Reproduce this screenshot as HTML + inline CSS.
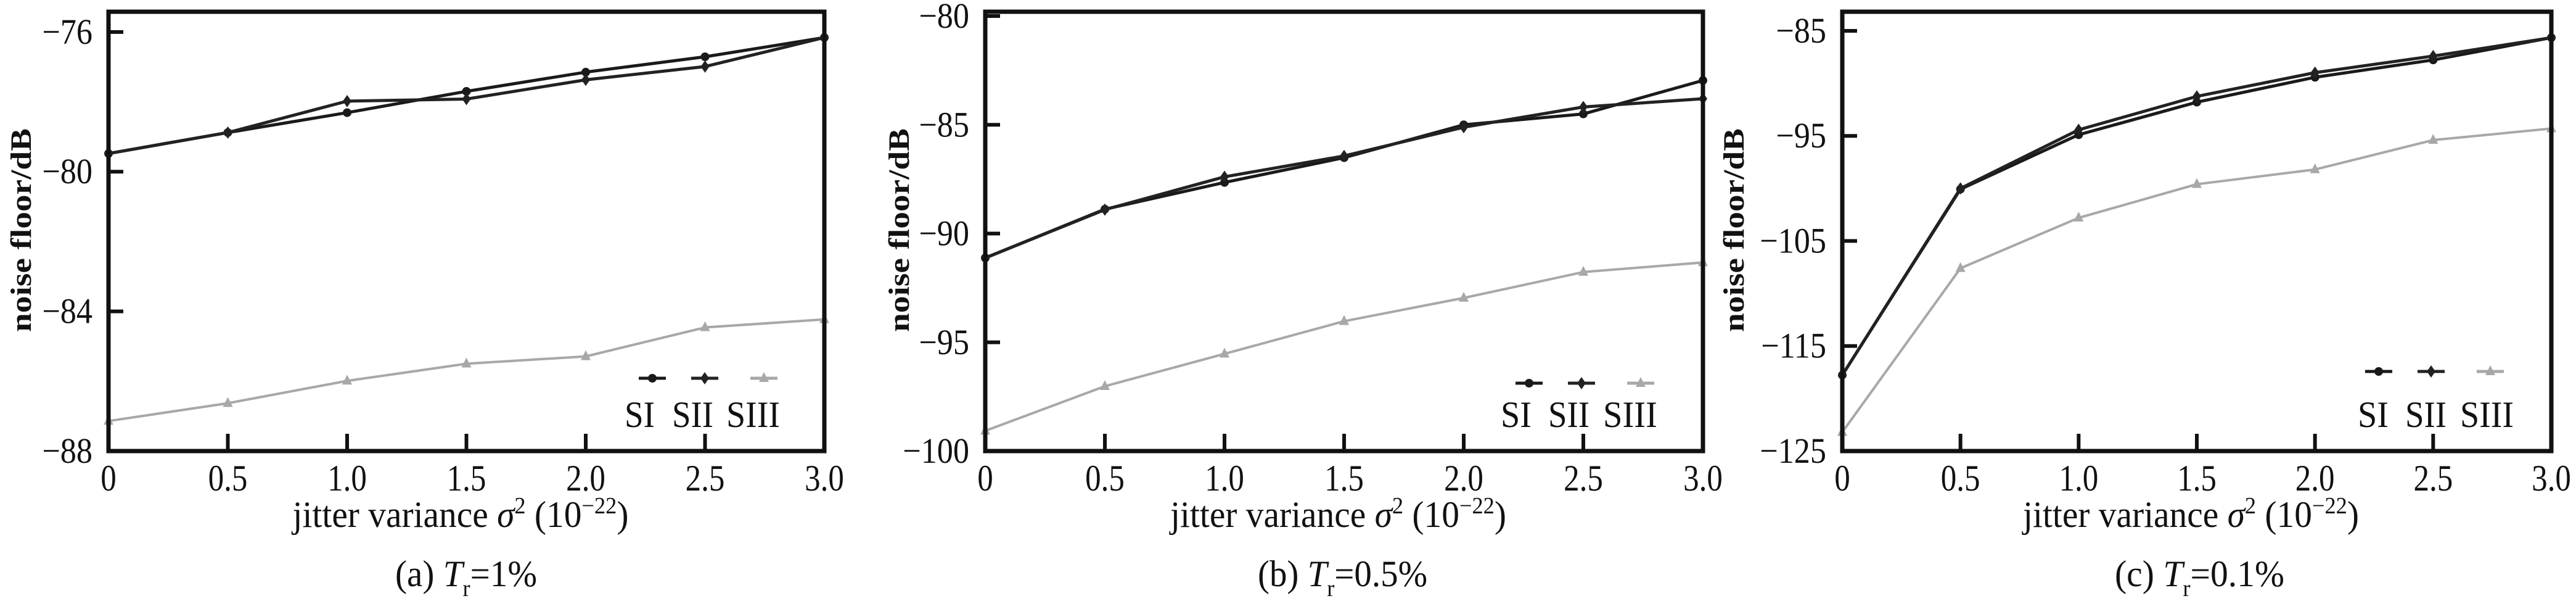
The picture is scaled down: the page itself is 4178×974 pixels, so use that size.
<!DOCTYPE html>
<html><head><meta charset="utf-8"><style>
html,body{margin:0;padding:0;background:#fff;}
svg{display:block;}
text{font-family:"Liberation Serif",serif;fill:#111;}
</style></head><body>
<svg id="fig" width="4178" height="974" viewBox="0 0 4178 974" xmlns="http://www.w3.org/2000/svg"></svg>
<script>
const xCategories = [0, 0.5, 1.0, 1.5, 2.0, 2.5, 3.0];
const xTickLabels = ["0", "0.5", "1.0", "1.5", "2.0", "2.5", "3.0"];
const seriesNames = ["SI", "SII", "SIII"];
const aSI   = [-79.48, -78.88, -78.31, -77.70, -77.15, -76.71, -76.16];
const aSII  = [-79.48, -78.88, -77.98, -77.92, -77.37, -76.99, -76.16];
const aSIII = [-87.14, -86.63, -85.99, -85.50, -85.29, -84.46, -84.23];
const bSI   = [-91.12, -88.88, -87.65, -86.51, -85.00, -84.50, -82.96];
const bSII  = [-91.12, -88.90, -87.39, -86.43, -85.11, -84.18, -83.80];
const bSIII = [-99.07, -97.02, -95.53, -94.03, -92.96, -91.77, -91.33];
const cSI   = [-117.77, -100.07, -94.89, -91.79, -89.42, -87.77, -85.65];
const cSII  = [-117.77, -100.00, -94.42, -91.24, -88.98, -87.40, -85.65];
const cSIII = [-123.2, -107.6, -102.8, -99.6, -98.2, -95.4, -94.3];
const aYTicks = [-76, -80, -84, -88];
const bYTicks = [-80, -85, -90, -95, -100];
const cYTicks = [-85, -95, -105, -115, -125];

const NS = "http://www.w3.org/2000/svg";
const svg = document.getElementById("fig");
function mk(tag, attrs, parent){const e=document.createElementNS(NS,tag);for(const k in attrs)e.setAttribute(k,attrs[k]);(parent||svg).appendChild(e);return e;}

const panels = [
 {id:"a", L:176, R:1337, T:19, B:731, yMin:-88, yMax:-75.42, ticks:aYTicks, series:[aSI,aSII,aSIII], cap:"(a) ", capVal:"=1%", capX:641, capW:230, ytX:34, legX:[1058,1143,1239], legY:613, legT:[[1013,49],[1090,67],[1178,87]]},
 {id:"b", L:1598, R:2762, T:19, B:731, yMin:-100, yMax:-79.8, ticks:bYTicks, series:[bSI,bSII,bSIII], cap:"(b) ", capVal:"=0.5%", capX:2040, capW:275, ytX:1458, legX:[2480,2565,2661], legY:621, legT:[[2434,50],[2511,67],[2600,88]]},
 {id:"c", L:2988, R:4138, T:19, B:731, yMin:-125, yMax:-83.18, ticks:cYTicks, series:[cSI,cSII,cSIII], cap:"(c) ", capVal:"=0.1%", capX:3430, capW:275, ytX:2812, legX:[3858,3943,4039], legY:602, legT:[[3824,50],[3901,67],[3990,87]]}
];
const colors = ["#1a1a1a","#222222","#a8a8a8"];
const widths = [5,5,4];

function marker(g, kind, x, y, color){
  let m;
  if(kind===0) m=mk("circle",{cx:x,cy:y,r:7,fill:color},g);
  else if(kind===1) m=mk("polygon",{points:`${x},${y-10} ${x+7},${y} ${x},${y+10} ${x-7},${y}`,fill:color},g);
  else m=mk("polygon",{points:`${x},${y-10} ${x+8},${y+6} ${x-8},${y+6}`,fill:color},g);
  return m;
}

panels.forEach(p=>{
  const g = mk("g",{});
  
  
  const xs = v => p.L + (v - xCategories[0])/(xCategories[xCategories.length-1]-xCategories[0])*(p.R-p.L);
  const ys = v => p.B - (v - p.yMin)/(p.yMax-p.yMin)*(p.B-p.T);
  p.series.forEach((arr,si)=>{
    const sg = mk("g",{},g);
    
    
    const pts = arr.map((v,i)=>xs(xCategories[i])+","+ys(v)).join(" ");
    const pl = mk("polyline",{points:pts,fill:"none",stroke:colors[si],"stroke-width":widths[si],"stroke-linejoin":"round"},sg);
    
    
    arr.forEach((v,i)=>{
      const m = marker(sg, si, xs(xCategories[i]), ys(v), colors[si]);
      
      
    });
  });
  const fr = mk("rect",{x:p.L,y:p.T,width:p.R-p.L,height:p.B-p.T,fill:"none",stroke:"#111","stroke-width":7},g);
  
  
  p.ticks.forEach(t=>{
    const y = ys(t);
    const tl = mk("line",{x1:p.L,x2:p.L+24,y1:y,y2:y,stroke:"#111","stroke-width":6},g);
    
    
    const lx = p.L-26;
    const tx = mk("text",{x:lx,y:y+19,"font-size":58,"text-anchor":"end",transform:`translate(${lx} 0) scale(0.9 1) translate(${-lx} 0)`},g);
    tx.textContent = "\u2212"+Math.abs(t);
    
    
  });
  xCategories.forEach((c,i)=>{
    const x = xs(c);
    if(i>0 && i<xCategories.length-1){
      const tl = mk("line",{x1:x,x2:x,y1:p.B,y2:p.B-28,stroke:"#111","stroke-width":6},g);
      
      
    }
    const tx = mk("text",{x:x,y:795,"font-size":60,"text-anchor":"middle",transform:`translate(${x} 0) scale(0.85 1) translate(${-x} 0)`},g);
    tx.textContent = xTickLabels[i];
    
    
  });
  const cy = 373;
  const yt = mk("text",{x:p.ytX+16,y:cy,"font-size":48,"font-weight":"bold","text-anchor":"middle",transform:`rotate(-90 ${p.ytX+16} ${cy})`,textLength:330,lengthAdjust:"spacingAndGlyphs"},g);
  yt.textContent = "noise floor/dB";
  
  
  const mx = (p.L+p.R)/2 - 10;
  const xt = mk("text",{x:mx-272,y:854,"font-size":60,textLength:545,lengthAdjust:"spacingAndGlyphs"},g);
  xt.innerHTML = 'jitter variance <tspan font-style="italic">σ</tspan><tspan dy="-22" font-size="38">2</tspan><tspan dy="22"> (10</tspan><tspan dy="-22" font-size="38">−22</tspan><tspan dy="22">)</tspan>';
  
  
  const ct = mk("text",{x:p.capX,y:950,"font-size":60,textLength:p.capW,lengthAdjust:"spacingAndGlyphs"},g);
  ct.innerHTML = p.cap+'<tspan font-style="italic">T</tspan><tspan dy="16" font-size="38">r</tspan><tspan dy="-16">'+p.capVal+'</tspan>';
  
  
  const lg = mk("g",{},g);
  
  
  seriesNames.forEach((n,si)=>{
    const lx = p.legX[si];
    const ll = mk("line",{x1:lx-22,x2:lx+22,y1:p.legY,y2:p.legY,stroke:colors[si],"stroke-width":5},lg);
    
    
    marker(lg, si, lx, p.legY, colors[si]);
    const lt = mk("text",{x:p.legT[si][0],y:692,"font-size":60,textLength:p.legT[si][1],lengthAdjust:"spacingAndGlyphs"},lg);
    lt.textContent = n;
    
    
  });
});
</script>
</body></html>
